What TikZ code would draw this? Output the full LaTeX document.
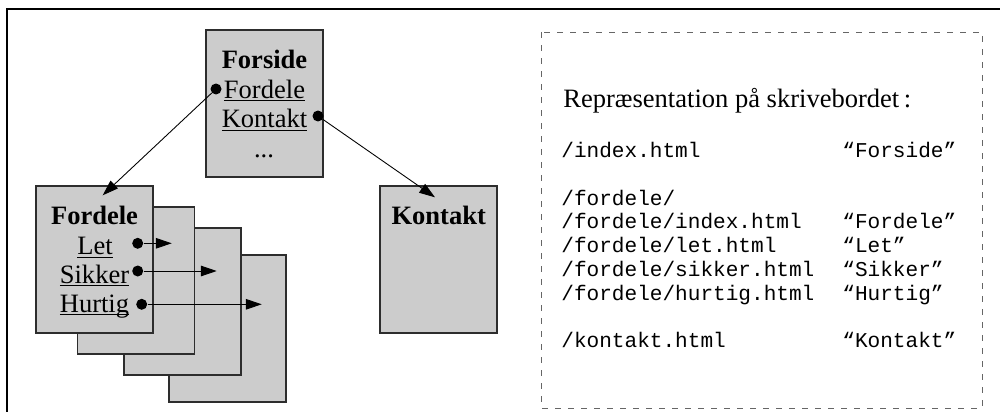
\documentclass[tikz,border=0pt]{standalone}
\usepackage{fontspec}
\setmainfont{Liberation Serif}
\setmonofont{Liberation Mono}
\usetikzlibrary{arrows.meta}
\definecolor{papir}{RGB}{204,204,204}
\definecolor{kant}{RGB}{45,45,45}
\newcommand{\ulink}[1]{\underline{\smash{#1}}}

\begin{document}
\begin{tikzpicture}[x=0.02cm, y=-0.02cm,
    side/.style={draw=kant, line width=0.6pt, fill=papir, minimum width=2.34cm, minimum height=2.94cm, inner sep=0pt},
    tekst/.style={inner sep=0pt, anchor=base, font=\fontsize{15.1}{18}\selectfont},
    kode/.style={inner sep=0pt, anchor=base west, font=\ttfamily\fontsize{12}{14}\selectfont},
    prik/.style={circle, fill=black, inner sep=0pt, minimum size=0.22cm},
    link/.style={-{Triangle[length=9pt, width=6pt]}, line width=0.5pt}]
            \useasboundingbox (0,0) rectangle (1000,412);
            \draw[line width=0.8pt] (7,412) -- (7,9) -- (1000,9);

            % sider
            \node[side] (forside) at (264.5,103.5) {};
            \node[side] (fordele4) at (227.5,328.5) {};
            \node[side] (fordele3) at (182.5,301.5) {};
            \node[side] (fordele2) at (136,280.5) {};
            \node[side] (fordele) at (94.5,259.5) {};
            \node[side] (kontakt) at (438.5,259.5) {};

            % forside
            \node[tekst, font=\fontsize{15.1}{18}\selectfont\bfseries] (forsideT) at (264.5,69) {Forside};
            \node[tekst] (forsideL1) at (264.5,98) {\ulink{Fordele}};
            \node[tekst] (forsideL2) at (264.5,127.5) {\ulink{Kontakt}};
            \node[tekst] (forsideL3) at (264,157) {...};
            \node[prik] (prikFordele) at (216,89) {};
            \node[prik] (prikKontakt) at (318,116) {};

            % fordele
            \node[tekst, font=\fontsize{15.1}{18}\selectfont\bfseries] (fordeleT) at (94.5,224) {Fordele};
            \node[tekst] (fordeleL1) at (95,254.5) {\ulink{Let}};
            \node[tekst] (fordeleL2) at (94.5,283) {\ulink{Sikker}};
            \node[tekst] (fordeleL3) at (94.5,312) {\ulink{Hurtig}};
            \node[prik] (prikLet) at (137.7,243.3) {};
            \node[prik] (prikSikker) at (137.7,271) {};
            \node[prik] (prikHurtig) at (141.7,304.3) {};

            % kontakt
            \node[tekst, font=\fontsize{15.1}{18}\selectfont\bfseries] (kontaktT) at (438.7,224) {Kontakt};

            \coordinate (indFordele) at (102.7,195.3);
            \coordinate (indKontakt) at (435,197.3);
            \coordinate (indLet) at (171.7,243.3);
            \coordinate (indSikker) at (216.7,271);
            \coordinate (indHurtig) at (261.7,304.3);

            \draw[link] (prikFordele) -- (indFordele);
            \draw[link] (prikKontakt) -- (indKontakt);
            \draw[link] (prikLet) -- (indLet);
            \draw[link] (prikSikker) -- (indSikker);
            \draw[link] (prikHurtig) -- (indHurtig);

            % skrivebordet
            \draw[gray!80!black, line width=0.5pt, dash pattern=on 3.4pt off 4pt] (541,32) rectangle (982,408);
            \node[tekst, anchor=base west] (overskrift) at (563,107.5) {Repræsentation på skrivebordet\,:};
            \node[kode] (stiForside) at (561,157.7) {/index.html};
            \node[kode] (navnForside) at (842,157.7) {“Forside”};
            \node[kode] (stiMappe) at (561,205.2) {/fordele/};
            \node[kode] (stiFordele) at (561,228.9) {/fordele/index.html};
            \node[kode] (navnFordele) at (842,228.9) {“Fordele”};
            \node[kode] (stiLet) at (561,252.7) {/fordele/let.html};
            \node[kode] (navnLet) at (842,252.7) {“Let”};
            \node[kode] (stiSikker) at (561,276.4) {/fordele/sikker.html};
            \node[kode] (navnSikker) at (842,276.4) {“Sikker”};
            \node[kode] (stiHurtig) at (561,300.2) {/fordele/hurtig.html};
            \node[kode] (navnHurtig) at (842,300.2) {“Hurtig”};
            \node[kode] (stiKontakt) at (561,347.7) {/kontakt.html};
            \node[kode] (navnKontakt) at (842,347.7) {“Kontakt”};
\end{tikzpicture}
\end{document}
